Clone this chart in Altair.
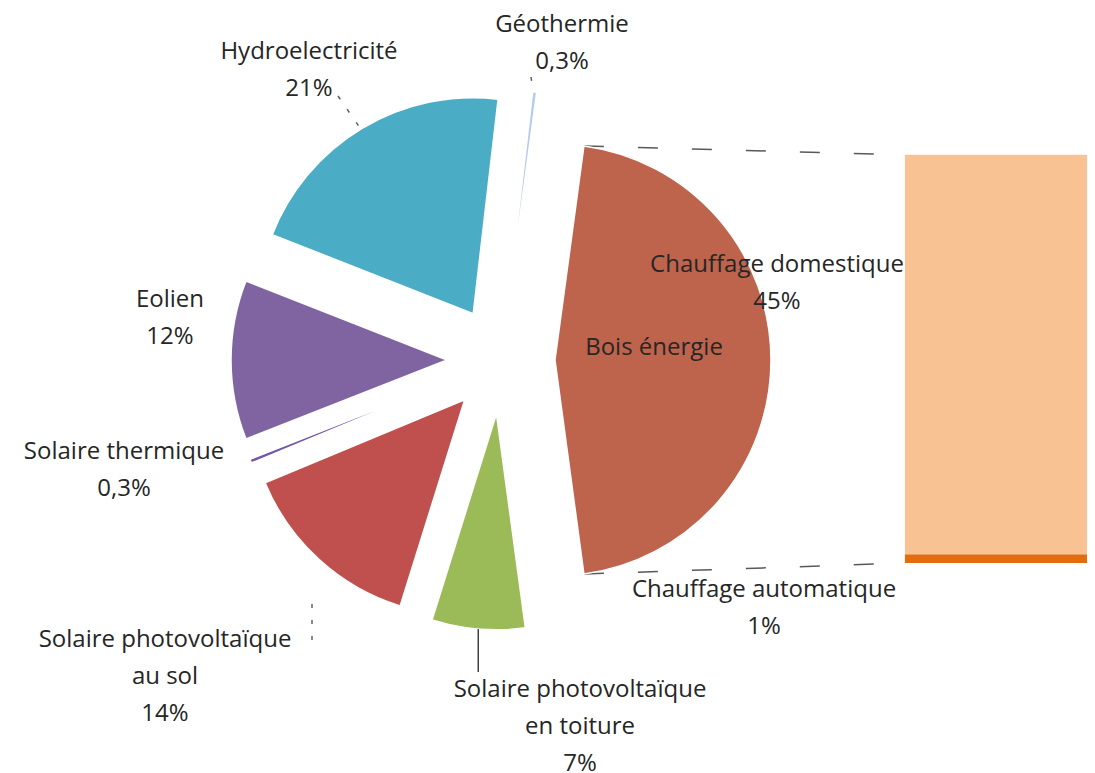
import math
import altair as alt
import pandas as pd

# ---------------- data ----------------
bois_parts = ["Chauffage domestique", "Chauffage automatique"]
bois_values = [45, 1]

categories = ["Bois énergie", "Solaire photovoltaïque en toiture", "Solaire photovoltaïque au sol",
              "Solaire thermique", "Eolien", "Hydroelectricité", "Géothermie"]
values = [sum(bois_values), 7, 14, 0.3, 12, 21, 0.3]
label_names = ["Bois énergie", "Solaire photovoltaïque\nen toiture", "Solaire photovoltaïque\nau sol",
               "Solaire thermique", "Eolien", "Hydroelectricité", "Géothermie"]

# ---------------- styles / layout ----------------
slice_colors = ["#BE634C", "#9BBB59", "#C0504D", "#7455A6", "#8064A2", "#4BACC6", "#B3CBEE"]
bar_colors = ["#F9C292", "#E46C0A"]
TEXT_COLOR = "#262626"
FONT = "Open Sans"
FONT_SIZE = 24
LINE_H = 37

W, H = 1079, 765          # plot area (page minus 8px margin)
CX_PAGE, CY_PAGE = 501, 360  # pie centre on the page
R_PX = 216                # pie radius in pixels
EXPLODE = 0.25            # explosion as fraction of radius
BAR_X0 = 1.87             # bar left edge (radius units)
BAR_Y0, BAR_Y1 = -0.94, 0.95


def u(px, py):
    """page pixel -> radius units around pie centre (y up)"""
    return (px - CX_PAGE) / R_PX, (CY_PAGE - py) / R_PX


X_MIN, Y_MAX = u(8, 8)
X_MAX, Y_MIN = u(8 + W, 8 + H)

xs = alt.Scale(domain=[X_MIN, X_MAX], nice=False, zero=False)
ys = alt.Scale(domain=[Y_MIN, Y_MAX], nice=False, zero=False)

# ---------------- pie geometry ----------------
total = sum(values)
start = math.pi / 2 - math.pi * values[0] / total
rows = []
c = 0.0
for cat, v, col in zip(categories, values, slice_colors):
    mid = start + 2 * math.pi * (c + v / 2) / total
    rows.append(dict(cat=cat, a0=c, a1=c + v, color=col,
                     cx=EXPLODE * math.sin(mid), cy=EXPLODE * math.cos(mid), mid=mid))
    c += v
pie = pd.DataFrame(rows)

arcs = alt.Chart(pie).mark_arc(radius=R_PX, stroke="white", strokeWidth=1.5).encode(
    x=alt.X("cx:Q", scale=xs, axis=None),
    y=alt.Y("cy:Q", scale=ys, axis=None),
    theta=alt.Theta("a0:Q", scale=alt.Scale(domain=[0, total], range=[start, start + 2 * math.pi]), stack=None),
    theta2="a1:Q",
    color=alt.Color("color:N", scale=None),
)

# ---------------- bar of the Bois énergie split ----------------
bar_rows = []
below = 0.0
bois_total = sum(bois_values)
for name, v, col in reversed(list(zip(bois_parts, bois_values, bar_colors))):
    y0 = BAR_Y0 + below / bois_total * (BAR_Y1 - BAR_Y0)
    y1 = BAR_Y0 + (below + v) / bois_total * (BAR_Y1 - BAR_Y0)
    bar_rows.append(dict(name=name, x0=BAR_X0, x1=X_MAX, y0=y0, y1=y1, color=col))
    below += v
bar = alt.Chart(pd.DataFrame(bar_rows)).mark_rect().encode(
    x=alt.X("x0:Q", scale=xs, axis=None), x2="x1:Q",
    y=alt.Y("y0:Q", scale=ys, axis=None), y2="y1:Q",
    color=alt.Color("color:N", scale=None),
)

# ---------------- connector lines ----------------
b = pie.iloc[0]
a_start = start
a_end = start + 2 * math.pi * values[0] / total
conn = pd.DataFrame([
    dict(x=b.cx + math.sin(a_start), y=b.cy + math.cos(a_start), x2=BAR_X0, y2=BAR_Y1),
    dict(x=b.cx + math.sin(a_end), y=b.cy + math.cos(a_end), x2=BAR_X0, y2=BAR_Y0),
])
connectors = alt.Chart(conn).mark_rule(color="#595959", strokeWidth=1.5, strokeDash=[20, 34]).encode(
    x=alt.X("x:Q", scale=xs, axis=None), y=alt.Y("y:Q", scale=ys, axis=None), x2="x2:Q", y2="y2:Q"
)

# leader line for the toiture slice
t = pie.iloc[1]
lx = t.cx + math.sin(t.mid)
leader = pd.DataFrame([dict(x=lx, y=t.cy + math.cos(t.mid), x2=lx, y2=u(0, 672)[1])])
leader_rule = alt.Chart(leader).mark_rule(color="#404040", strokeWidth=1.5).encode(
    x=alt.X("x:Q", scale=xs, axis=None), y=alt.Y("y:Q", scale=ys, axis=None), x2="x2:Q", y2="y2:Q"
)

# faint dotted leaders
dots = []
for (p1, p2) in [((338, 96), (360, 128)), ((312, 604), (312, 650)), ((531, 77), (532, 84))]:
    a = u(*p1); bb = u(*p2)
    dots.append(dict(x=a[0], y=a[1], x2=bb[0], y2=bb[1]))
dot_rule = alt.Chart(pd.DataFrame(dots)).mark_rule(color="#606060", strokeWidth=1.5, strokeDash=[4, 12]).encode(
    x=alt.X("x:Q", scale=xs, axis=None), y=alt.Y("y:Q", scale=ys, axis=None), x2="x2:Q", y2="y2:Q"
)

# ---------------- labels (position = centre of first line) ----------------
def pct(v):
    return (f"{v:g}".replace(".", ",")) + "%"

LABEL_PX = {
    "Géothermie": (562, 25),
    "Hydroelectricité": (309, 52),
    "Eolien": (170, 300),
    "Solaire thermique": (124, 452),
    "Solaire photovoltaïque au sol": (165, 640),
    "Solaire photovoltaïque en toiture": (580, 690),
    "Bois énergie": (654, 348),
    "Chauffage domestique": (777, 265),
    "Chauffage automatique": (764, 590),
}
lab = []
for cat, name, v in zip(categories, label_names, values):
    x, y = u(*LABEL_PX[cat])
    txt = name if cat == "Bois énergie" else name + "\n" + pct(v)
    lab.append(dict(x=x, y=y, text=txt))
for name, v in zip(bois_parts, bois_values):
    x, y = u(*LABEL_PX[name])
    lab.append(dict(x=x, y=y, text=name + "\n" + pct(v)))

labels = alt.Chart(pd.DataFrame(lab)).mark_text(
    font=FONT, fontSize=FONT_SIZE, color=TEXT_COLOR, align="center", baseline="middle",
    lineBreak="\n", lineHeight=LINE_H
).encode(
    x=alt.X("x:Q", scale=xs, axis=None), y=alt.Y("y:Q", scale=ys, axis=None), text="text:N"
)

chart = alt.layer(connectors, bar, arcs, leader_rule, dot_rule, labels).properties(
    width=W, height=H, padding=0, autosize=alt.AutoSizeParams(type="none")
).configure_view(stroke=None)

chart.save("out.html", embed_options={"renderer": "svg", "actions": False})
